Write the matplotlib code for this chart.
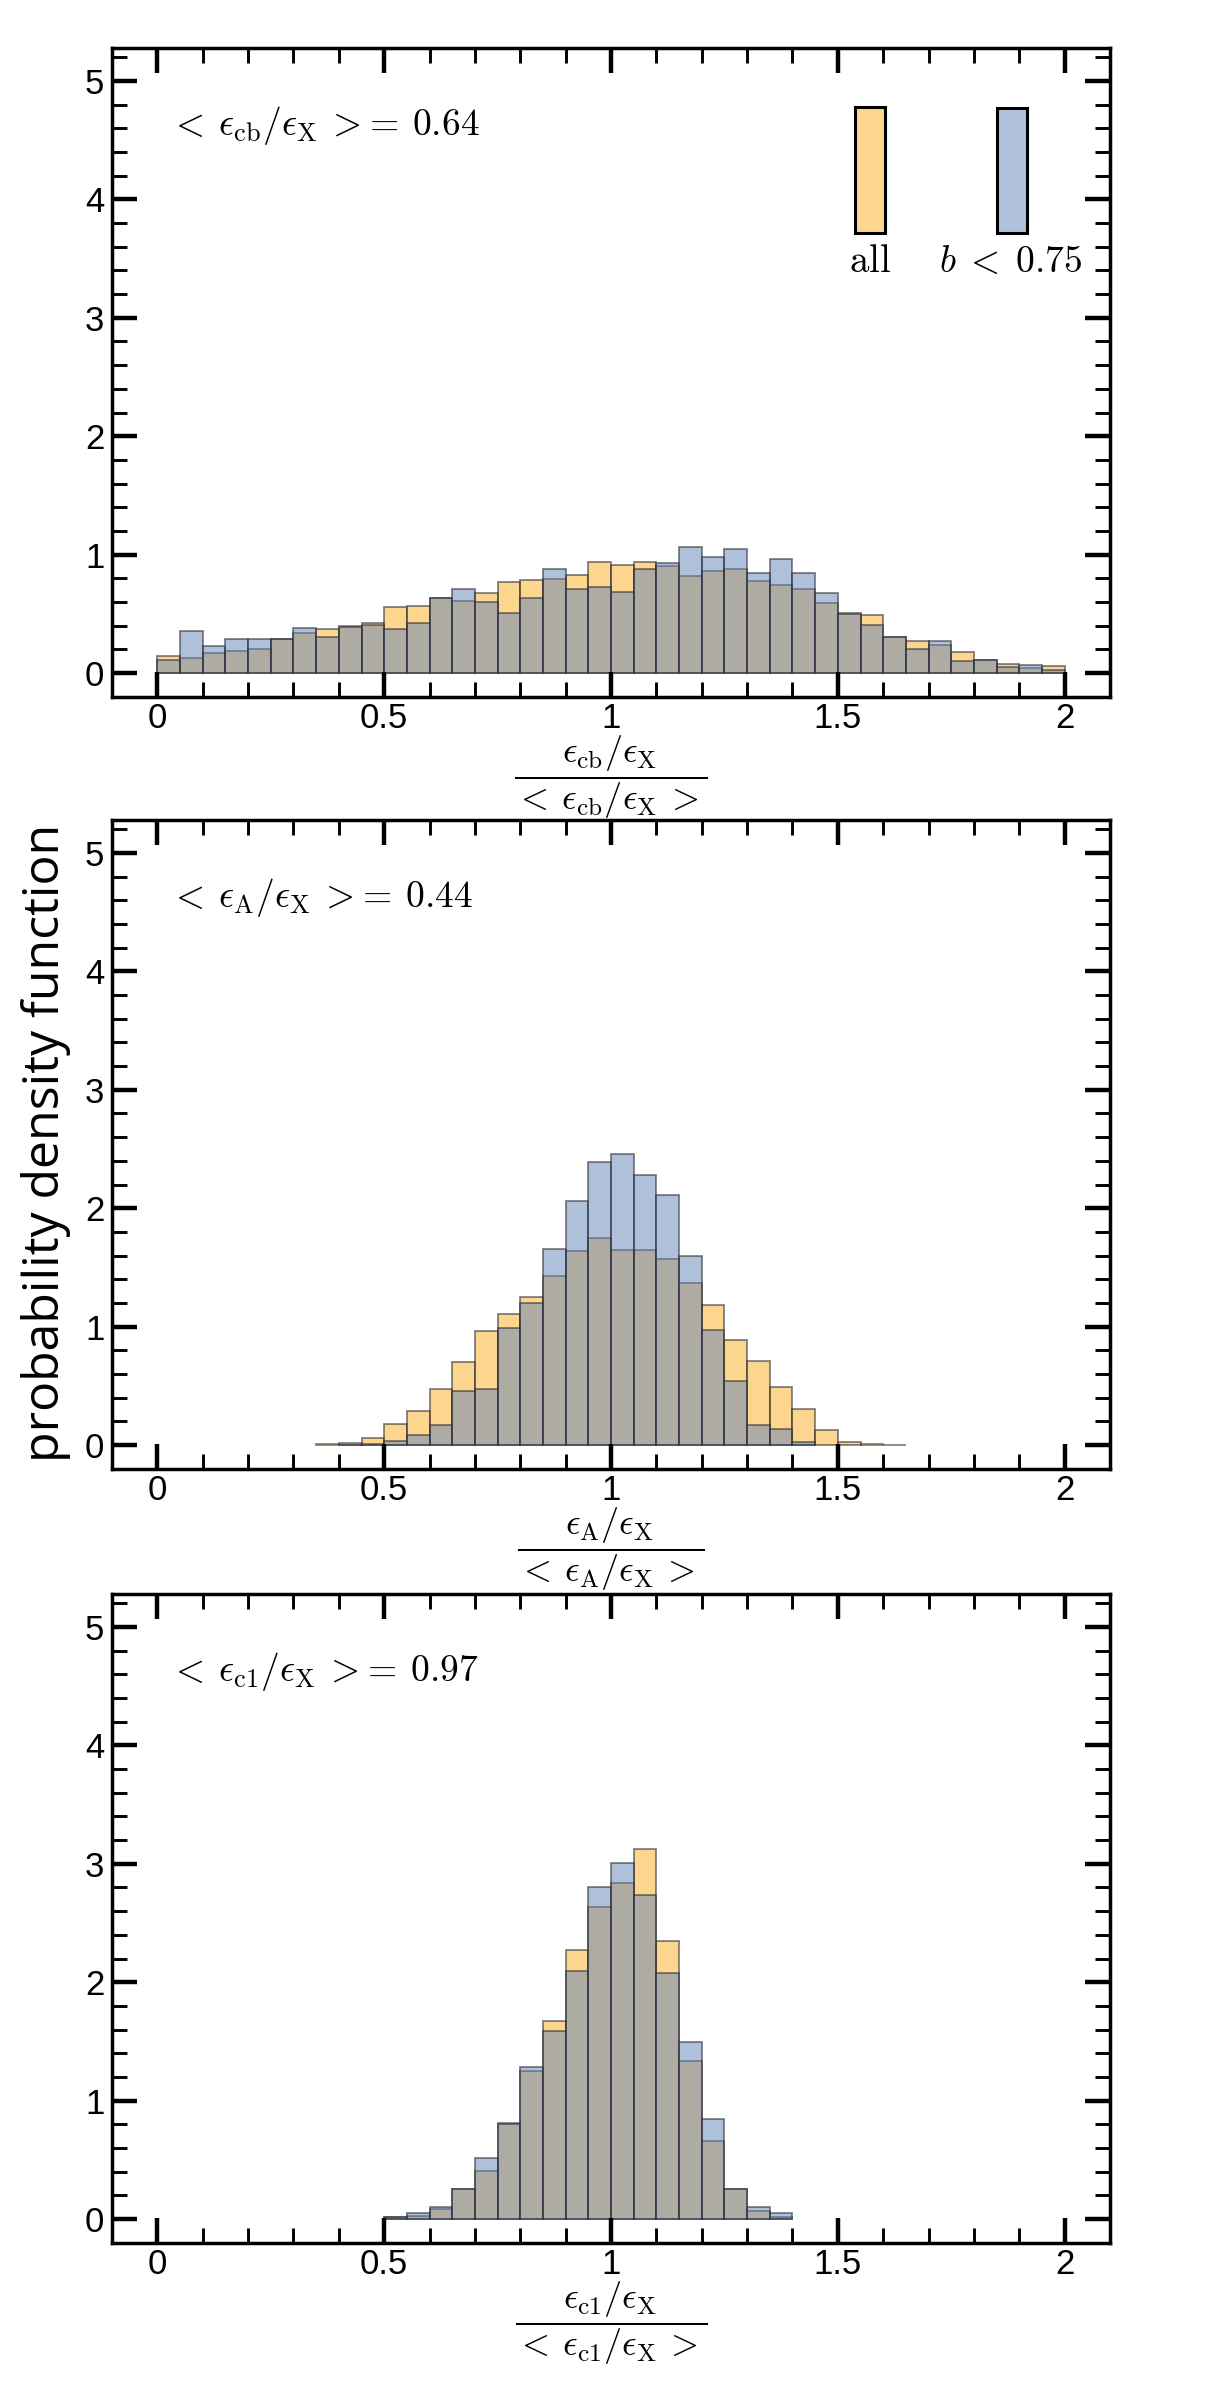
import numpy as np
import matplotlib
matplotlib.use("Agg")
import matplotlib.pyplot as plt
from matplotlib.patches import Rectangle
from matplotlib.ticker import MultipleLocator, FuncFormatter

plt.rcParams['mathtext.fontset'] = 'cm'
plt.rcParams['font.family'] = ['Liberation Sans', 'DejaVu Sans']

# ---------------- data ----------------
bin_edges = np.round(np.arange(41) * 0.05, 2)   # 0, 0.05, ..., 2.0

# panel 1 : eps_cb / eps_X
cb_all = [0.14, 0.13, 0.17, 0.185, 0.20, 0.29, 0.34, 0.37, 0.394, 0.425,
          0.56, 0.57, 0.63, 0.61, 0.674, 0.77, 0.785, 0.793, 0.83, 0.938,
          0.915, 0.935, 0.90, 0.82, 0.86, 0.876, 0.78, 0.744, 0.707, 0.589,
          0.505, 0.487, 0.304, 0.268, 0.237, 0.177, 0.113, 0.079, 0.042, 0.056]
cb_b075 = [0.113, 0.354, 0.227, 0.29, 0.283, 0.29, 0.377, 0.30, 0.388, 0.405,
           0.368, 0.42, 0.63, 0.71, 0.60, 0.507, 0.63, 0.88, 0.71, 0.73,
           0.685, 0.876, 0.932, 1.065, 0.98, 1.045, 0.848, 0.96, 0.845, 0.676,
           0.50, 0.406, 0.304, 0.203, 0.268, 0.099, 0.11, 0.051, 0.068, 0.028]

# panel 2 : eps_A / eps_X
A_all = [0, 0, 0, 0, 0, 0, 0, 0.008, 0.02, 0.056,
         0.18, 0.29, 0.47, 0.70, 0.96, 1.11, 1.25, 1.43, 1.64, 1.75,
         1.65, 1.65, 1.57, 1.37, 1.18, 0.89, 0.71, 0.49, 0.30, 0.127,
         0.023, 0.006, 0.003, 0, 0, 0, 0, 0, 0, 0]
A_b075 = [0, 0, 0, 0, 0, 0, 0, 0, 0.003, 0.01,
          0.034, 0.085, 0.17, 0.46, 0.475, 0.99, 1.20, 1.655, 2.06, 2.39,
          2.46, 2.28, 2.11, 1.60, 0.975, 0.54, 0.17, 0.135, 0.028, 0,
          0, 0, 0, 0, 0, 0, 0, 0, 0, 0]

# panel 3 : eps_c1 / eps_X
c1_all = [0, 0, 0, 0, 0, 0, 0, 0, 0, 0,
          0.015, 0.028, 0.082, 0.25, 0.405, 0.81, 1.253, 1.672, 2.272, 2.632,
          2.835, 3.125, 2.35, 1.337, 0.659, 0.25, 0.07, 0.02, 0, 0,
          0, 0, 0, 0, 0, 0, 0, 0, 0, 0]
c1_b075 = [0, 0, 0, 0, 0, 0, 0, 0, 0, 0,
           0.015, 0.053, 0.104, 0.255, 0.512, 0.80, 1.287, 1.59, 2.097, 2.807,
           3.01, 2.736, 2.075, 1.492, 0.845, 0.25, 0.104, 0.053, 0, 0,
           0, 0, 0, 0, 0, 0, 0, 0, 0, 0]

means = ["0.64", "0.44", "0.97"]
subs = ["cb", "A", "c1"]
series_all = [cb_all, A_all, c1_all]
series_b = [cb_b075, A_b075, c1_b075]
legend_labels = [r"$\mathrm{all}$", r"$b\;{<}\;0.75$"]
xticks = [0, 0.5, 1, 1.5, 2]
yticks = [0, 1, 2, 3, 4, 5]

# ---------------- style ----------------
W, H = 1224, 2383
DPI = 100
orange = (251/255, 173/255, 31/255, 0.5)
blue = (97/255, 131/255, 183/255, 0.5)
edge = (0.18, 0.18, 0.22, 0.6)
orange_sw = (253/255, 214/255, 143/255)
blue_sw = (176/255, 193/255, 219/255)
MATH_FS = 27
XLAB_FS = 26

fig = plt.figure(figsize=(W / DPI, H / DPI), dpi=DPI)

y0_px = [673, 1445, 2219]
ylo, yhi = -0.2, 5.28
px_per_unit = 118.4
ax_h = (yhi - ylo) * px_per_unit
left_px, right_px = 112, 1110

def fmt(v, pos):
    return f"{v:g}"

for i in range(3):
    bottom_px = y0_px[i] + (0 - ylo) * px_per_unit
    ax = fig.add_axes([left_px / W, 1 - bottom_px / H,
                       (right_px - left_px) / W, ax_h / H])
    ax.patch.set_visible(False)
    left = bin_edges[:-1]
    width = np.diff(bin_edges)
    a = np.array(series_all[i])
    b = np.array(series_b[i])
    ma = a > 0
    mb = b > 0
    ax.bar(left[ma], a[ma], width=width[ma], align='edge', color=orange,
           edgecolor=edge, linewidth=1.3)
    ax.bar(left[mb], b[mb], width=width[mb], align='edge', color=blue,
           edgecolor=edge, linewidth=1.3)

    ax.set_xlim(-0.1, 2.1)
    ax.set_ylim(ylo, yhi)
    ax.set_xticks(xticks)
    ax.set_yticks(yticks)
    ax.xaxis.set_minor_locator(MultipleLocator(0.1))
    ax.yaxis.set_minor_locator(MultipleLocator(0.2))
    ax.xaxis.set_major_formatter(FuncFormatter(fmt))
    ax.yaxis.set_major_formatter(FuncFormatter(fmt))
    ax.tick_params(which='both', direction='in', top=True, right=True,
                   color='black')
    ax.tick_params(which='major', length=18, width=3.2, labelsize=25)
    ax.tick_params(which='minor', length=10.5, width=2.1)
    ax.tick_params(axis='x', which='major', pad=4)
    ax.tick_params(axis='y', which='major', pad=5.5)
    for s in ax.spines.values():
        s.set_linewidth(2.5)

    sub = subs[i]
    ax.text(0.025, 4.62,
            r"${<}\:\epsilon_{\mathrm{%s}}/\epsilon_{\mathrm{X}}\:{>}\!{=}\:%s$"
            % (sub, means[i]),
            fontsize=MATH_FS, va='center', ha='left')
    ax.set_xlabel(r"$\dfrac{\epsilon_{\mathrm{%s}}/\epsilon_{\mathrm{X}}}"
                  r"{{<}\:\epsilon_{\mathrm{%s}}/\epsilon_{\mathrm{X}}\:{>}}$" % (sub, sub),
                  fontsize=XLAB_FS)
    ax.xaxis.label.set_va('center')
    ax.xaxis.set_label_coords(0.5, -(777 - 696) / ax_h)

    if i == 0:
        # legend swatches
        ax.add_patch(Rectangle((1.537, 3.719), 0.066, 1.064, facecolor=orange_sw,
                               edgecolor='black', linewidth=2.2, zorder=5))
        ax.add_patch(Rectangle((1.851, 3.716), 0.065, 1.056, facecolor=blue_sw,
                               edgecolor='black', linewidth=2.2, zorder=5))
        ax.text(1.572, 3.47, legend_labels[0], fontsize=28, ha='center',
                va='center')
        ax.text(1.882, 3.47, legend_labels[1], fontsize=MATH_FS, ha='center',
                va='center')

fig.text(46 / W, 1 - 1462 / H, "probability density function",
         rotation=90, ha='center', va='bottom', fontsize=36,
         family=['Open Sans', 'DejaVu Sans'])

fig.savefig("out.png", dpi=DPI)
